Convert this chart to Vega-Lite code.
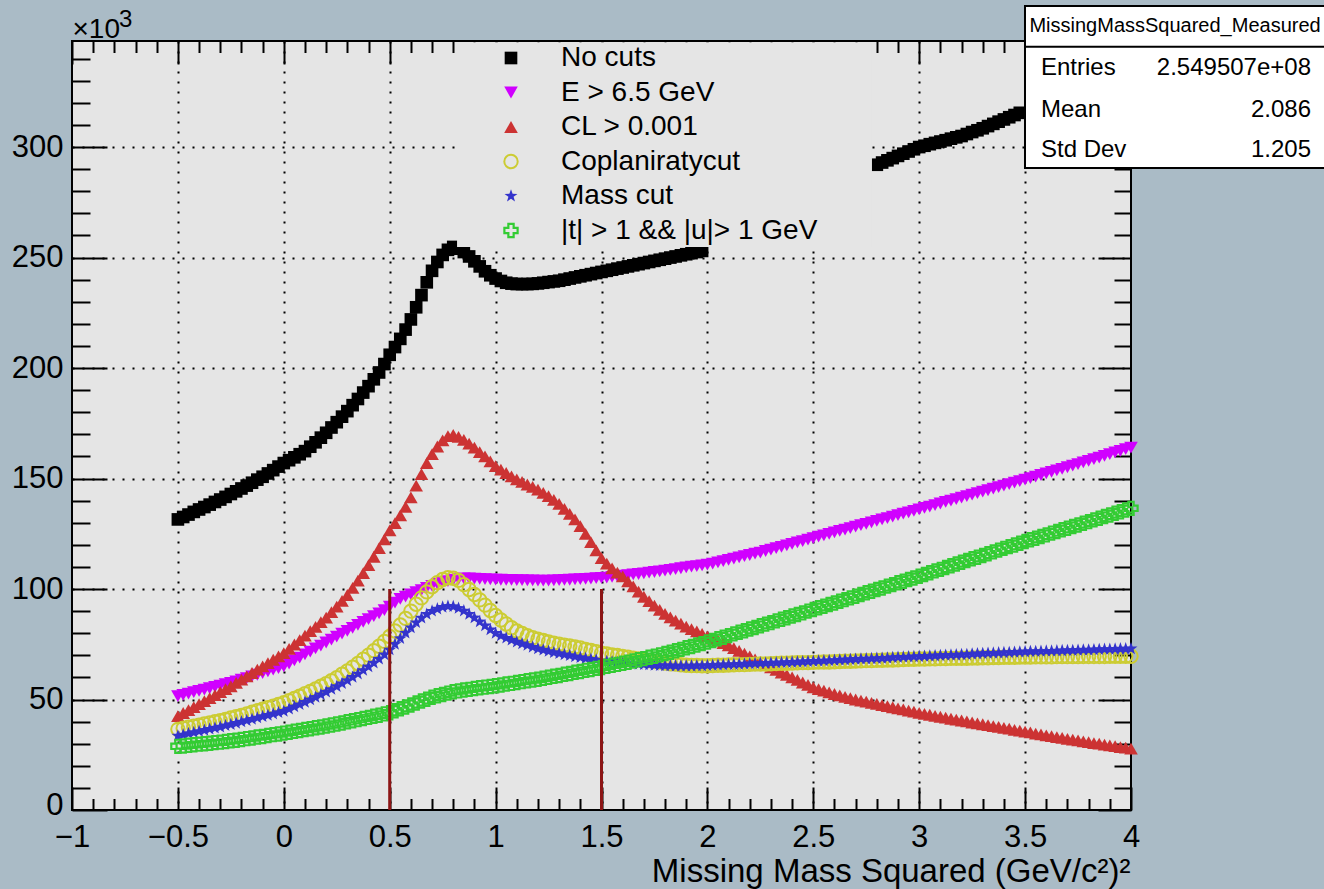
{
"$schema": "https://vega.github.io/schema/vega-lite/v6.json",
"width": 1059, "height": 769,
"autosize": {"type": "none"},
"padding": {"left": 72, "top": 41, "right": 193, "bottom": 79},
"background": "#aabbc6",
"config": {
  "font": "Liberation Sans",
  "view": {"fill": "#e5e5e5", "stroke": "#000000", "strokeWidth": 2},
  "axis": {"domain": false, "tickColor": "#000000", "tickWidth": 2, "labelColor": "#000000", "labelFontSize": 31, "titleColor": "#000000", "titleFontWeight": "normal", "gridColor": "#000000", "gridDash": [2, 8], "gridWidth": 2, "labelFont": "Liberation Sans", "titleFont": "Liberation Sans"},
  "text": {"font": "Liberation Sans", "color": "#000000"}
},
"datasets": {
"h": [
{"s":"a","x":-0.5,"y":131.5},{"s":"a","x":-0.475,"y":132.6},{"s":"a","x":-0.45,"y":133.7},{"s":"a","x":-0.425,"y":134.9},{"s":"a","x":-0.4,"y":136},{"s":"a","x":-0.375,"y":137.1},{"s":"a","x":-0.35,"y":138.2},{"s":"a","x":-0.325,"y":139.4},{"s":"a","x":-0.3,"y":140.5},{"s":"a","x":-0.275,"y":141.7},{"s":"a","x":-0.25,"y":143},{"s":"a","x":-0.225,"y":144.2},{"s":"a","x":-0.2,"y":145.5},{"s":"a","x":-0.175,"y":146.8},{"s":"a","x":-0.15,"y":148.1},{"s":"a","x":-0.125,"y":149.5},{"s":"a","x":-0.1,"y":150.8},{"s":"a","x":-0.075,"y":152.3},{"s":"a","x":-0.05,"y":153.8},{"s":"a","x":-0.025,"y":155.4},{"s":"a","x":0,"y":157},{"s":"a","x":0.025,"y":158.3},{"s":"a","x":0.05,"y":159.6},{"s":"a","x":0.075,"y":161},{"s":"a","x":0.1,"y":162.4},{"s":"a","x":0.125,"y":164.4},{"s":"a","x":0.15,"y":166.4},{"s":"a","x":0.175,"y":168.5},{"s":"a","x":0.2,"y":170.7},{"s":"a","x":0.225,"y":173.1},{"s":"a","x":0.25,"y":175.5},{"s":"a","x":0.275,"y":178},{"s":"a","x":0.3,"y":180.5},{"s":"a","x":0.325,"y":183.2},{"s":"a","x":0.35,"y":186},{"s":"a","x":0.375,"y":188.9},{"s":"a","x":0.4,"y":191.8},{"s":"a","x":0.425,"y":194.9},{"s":"a","x":0.45,"y":198},{"s":"a","x":0.475,"y":201.8},{"s":"a","x":0.5,"y":206},{"s":"a","x":0.525,"y":209.5},{"s":"a","x":0.55,"y":213.2},{"s":"a","x":0.575,"y":217.4},{"s":"a","x":0.6,"y":222},{"s":"a","x":0.625,"y":227.5},{"s":"a","x":0.65,"y":233},{"s":"a","x":0.675,"y":238.8},{"s":"a","x":0.7,"y":244},{"s":"a","x":0.725,"y":248},{"s":"a","x":0.75,"y":251.2},{"s":"a","x":0.775,"y":253.5},{"s":"a","x":0.8,"y":254.8},{"s":"a","x":0.825,"y":254},{"s":"a","x":0.85,"y":252.5},{"s":"a","x":0.875,"y":250.5},{"s":"a","x":0.9,"y":248.3},{"s":"a","x":0.925,"y":246},{"s":"a","x":0.95,"y":243.8},{"s":"a","x":0.975,"y":242},{"s":"a","x":1,"y":240.5},{"s":"a","x":1.025,"y":239.4},{"s":"a","x":1.05,"y":238.6},{"s":"a","x":1.075,"y":238.2},{"s":"a","x":1.1,"y":238},{"s":"a","x":1.125,"y":238},{"s":"a","x":1.15,"y":238},{"s":"a","x":1.175,"y":238.1},{"s":"a","x":1.2,"y":238.3},{"s":"a","x":1.225,"y":238.6},{"s":"a","x":1.25,"y":238.9},{"s":"a","x":1.275,"y":239.2},{"s":"a","x":1.3,"y":239.5},{"s":"a","x":1.325,"y":240},{"s":"a","x":1.35,"y":240.5},{"s":"a","x":1.375,"y":241},{"s":"a","x":1.4,"y":241.5},{"s":"a","x":1.425,"y":242},{"s":"a","x":1.45,"y":242.5},{"s":"a","x":1.475,"y":243},{"s":"a","x":1.5,"y":243.5},{"s":"a","x":1.525,"y":244},{"s":"a","x":1.55,"y":244.5},{"s":"a","x":1.575,"y":245},{"s":"a","x":1.6,"y":245.5},{"s":"a","x":1.625,"y":246},{"s":"a","x":1.65,"y":246.5},{"s":"a","x":1.675,"y":247},{"s":"a","x":1.7,"y":247.5},{"s":"a","x":1.725,"y":248},{"s":"a","x":1.75,"y":248.5},{"s":"a","x":1.775,"y":249},{"s":"a","x":1.8,"y":249.5},{"s":"a","x":1.825,"y":250},{"s":"a","x":1.85,"y":250.5},{"s":"a","x":1.875,"y":251},{"s":"a","x":1.9,"y":251.5},{"s":"a","x":1.925,"y":252},{"s":"a","x":1.95,"y":252.5},{"s":"a","x":1.975,"y":253},
{"s":"a","x":2.8,"y":292},{"s":"a","x":2.825,"y":293},{"s":"a","x":2.85,"y":294},{"s":"a","x":2.875,"y":295},{"s":"a","x":2.9,"y":296},{"s":"a","x":2.925,"y":297},{"s":"a","x":2.95,"y":298},{"s":"a","x":2.975,"y":299},{"s":"a","x":3,"y":300},{"s":"a","x":3.025,"y":300.6},{"s":"a","x":3.05,"y":301.3},{"s":"a","x":3.075,"y":301.9},{"s":"a","x":3.1,"y":302.5},{"s":"a","x":3.125,"y":303.1},{"s":"a","x":3.15,"y":303.8},{"s":"a","x":3.175,"y":304.4},{"s":"a","x":3.2,"y":305},{"s":"a","x":3.225,"y":305.9},{"s":"a","x":3.25,"y":306.8},{"s":"a","x":3.275,"y":307.6},{"s":"a","x":3.3,"y":308.5},{"s":"a","x":3.325,"y":309.5},{"s":"a","x":3.35,"y":310.5},{"s":"a","x":3.375,"y":311.5},{"s":"a","x":3.4,"y":312.5},{"s":"a","x":3.425,"y":313.5},{"s":"a","x":3.45,"y":314.5},{"s":"a","x":3.475,"y":315.5},
{"s":"b","x":-0.5,"y":51.5},{"s":"b","x":-0.475,"y":52.1},{"s":"b","x":-0.45,"y":52.7},{"s":"b","x":-0.425,"y":53.3},{"s":"b","x":-0.4,"y":53.9},{"s":"b","x":-0.375,"y":54.5},{"s":"b","x":-0.35,"y":55.1},{"s":"b","x":-0.325,"y":55.7},{"s":"b","x":-0.3,"y":56.3},{"s":"b","x":-0.275,"y":56.9},{"s":"b","x":-0.25,"y":57.5},{"s":"b","x":-0.225,"y":58.2},{"s":"b","x":-0.2,"y":59},{"s":"b","x":-0.175,"y":59.7},{"s":"b","x":-0.15,"y":60.5},{"s":"b","x":-0.125,"y":61.2},{"s":"b","x":-0.1,"y":62},{"s":"b","x":-0.075,"y":62.7},{"s":"b","x":-0.05,"y":63.5},{"s":"b","x":-0.025,"y":64.2},{"s":"b","x":0,"y":65},{"s":"b","x":0.025,"y":66.3},{"s":"b","x":0.05,"y":67.7},{"s":"b","x":0.075,"y":69},{"s":"b","x":0.1,"y":70.4},{"s":"b","x":0.125,"y":71.7},{"s":"b","x":0.15,"y":73.1},{"s":"b","x":0.175,"y":74.4},{"s":"b","x":0.2,"y":75.8},{"s":"b","x":0.225,"y":77.1},{"s":"b","x":0.25,"y":78.5},{"s":"b","x":0.275,"y":79.8},{"s":"b","x":0.3,"y":81.1},{"s":"b","x":0.325,"y":82.4},{"s":"b","x":0.35,"y":83.8},{"s":"b","x":0.375,"y":85.1},{"s":"b","x":0.4,"y":86.4},{"s":"b","x":0.425,"y":87.7},{"s":"b","x":0.45,"y":89},{"s":"b","x":0.475,"y":90.5},{"s":"b","x":0.5,"y":92},{"s":"b","x":0.525,"y":93.8},{"s":"b","x":0.55,"y":95.5},{"s":"b","x":0.575,"y":96.6},{"s":"b","x":0.6,"y":97.6},{"s":"b","x":0.625,"y":98.6},{"s":"b","x":0.65,"y":99.5},{"s":"b","x":0.675,"y":100.5},{"s":"b","x":0.7,"y":101.4},{"s":"b","x":0.725,"y":102.3},{"s":"b","x":0.75,"y":103},{"s":"b","x":0.775,"y":103.6},{"s":"b","x":0.8,"y":104.1},{"s":"b","x":0.825,"y":104.5},{"s":"b","x":0.85,"y":104.8},{"s":"b","x":0.875,"y":104.8},{"s":"b","x":0.9,"y":104.7},{"s":"b","x":0.925,"y":104.6},{"s":"b","x":0.95,"y":104.5},{"s":"b","x":0.975,"y":104.4},{"s":"b","x":1,"y":104.3},{"s":"b","x":1.025,"y":104.2},{"s":"b","x":1.05,"y":104.1},{"s":"b","x":1.075,"y":104.1},{"s":"b","x":1.1,"y":104},{"s":"b","x":1.125,"y":104},{"s":"b","x":1.15,"y":103.9},{"s":"b","x":1.175,"y":103.9},{"s":"b","x":1.2,"y":103.8},{"s":"b","x":1.225,"y":103.8},{"s":"b","x":1.25,"y":103.8},{"s":"b","x":1.275,"y":103.9},{"s":"b","x":1.3,"y":104},{"s":"b","x":1.325,"y":104.1},{"s":"b","x":1.35,"y":104.2},{"s":"b","x":1.375,"y":104.4},{"s":"b","x":1.4,"y":104.5},{"s":"b","x":1.425,"y":104.6},{"s":"b","x":1.45,"y":104.7},{"s":"b","x":1.475,"y":104.9},{"s":"b","x":1.5,"y":105},{"s":"b","x":1.525,"y":105.2},{"s":"b","x":1.55,"y":105.5},{"s":"b","x":1.575,"y":105.7},{"s":"b","x":1.6,"y":106},{"s":"b","x":1.625,"y":106.3},{"s":"b","x":1.65,"y":106.6},{"s":"b","x":1.675,"y":106.8},{"s":"b","x":1.7,"y":107.1},{"s":"b","x":1.725,"y":107.4},{"s":"b","x":1.75,"y":107.7},{"s":"b","x":1.775,"y":108},{"s":"b","x":1.8,"y":108.3},{"s":"b","x":1.825,"y":108.7},{"s":"b","x":1.85,"y":109},{"s":"b","x":1.875,"y":109.4},{"s":"b","x":1.9,"y":109.8},{"s":"b","x":1.925,"y":110.1},{"s":"b","x":1.95,"y":110.4},{"s":"b","x":1.975,"y":110.7},{"s":"b","x":2,"y":111},{"s":"b","x":2.025,"y":111.5},{"s":"b","x":2.05,"y":112.1},{"s":"b","x":2.075,"y":112.6},{"s":"b","x":2.1,"y":113.2},{"s":"b","x":2.125,"y":113.8},{"s":"b","x":2.15,"y":114.3},{"s":"b","x":2.175,"y":114.9},{"s":"b","x":2.2,"y":115.4},{"s":"b","x":2.225,"y":116},{"s":"b","x":2.25,"y":116.5},{"s":"b","x":2.275,"y":117.2},{"s":"b","x":2.3,"y":117.8},{"s":"b","x":2.325,"y":118.5},{"s":"b","x":2.35,"y":119.1},{"s":"b","x":2.375,"y":119.8},{"s":"b","x":2.4,"y":120.4},{"s":"b","x":2.425,"y":121.1},{"s":"b","x":2.45,"y":121.7},{"s":"b","x":2.475,"y":122.4},{"s":"b","x":2.5,"y":123},{"s":"b","x":2.525,"y":123.7},{"s":"b","x":2.55,"y":124.3},{"s":"b","x":2.575,"y":125},{"s":"b","x":2.6,"y":125.6},{"s":"b","x":2.625,"y":126.3},{"s":"b","x":2.65,"y":126.9},{"s":"b","x":2.675,"y":127.6},{"s":"b","x":2.7,"y":128.2},{"s":"b","x":2.725,"y":128.9},{"s":"b","x":2.75,"y":129.5},{"s":"b","x":2.775,"y":130.2},{"s":"b","x":2.8,"y":130.8},{"s":"b","x":2.825,"y":131.5},{"s":"b","x":2.85,"y":132.1},{"s":"b","x":2.875,"y":132.8},{"s":"b","x":2.9,"y":133.4},{"s":"b","x":2.925,"y":134.1},{"s":"b","x":2.95,"y":134.7},{"s":"b","x":2.975,"y":135.4},{"s":"b","x":3,"y":136},{"s":"b","x":3.025,"y":136.7},{"s":"b","x":3.05,"y":137.3},{"s":"b","x":3.075,"y":138},{"s":"b","x":3.1,"y":138.7},{"s":"b","x":3.125,"y":139.4},{"s":"b","x":3.15,"y":140},{"s":"b","x":3.175,"y":140.7},{"s":"b","x":3.2,"y":141.4},{"s":"b","x":3.225,"y":142},{"s":"b","x":3.25,"y":142.7},{"s":"b","x":3.275,"y":143.4},{"s":"b","x":3.3,"y":144.1},{"s":"b","x":3.325,"y":144.7},{"s":"b","x":3.35,"y":145.4},{"s":"b","x":3.375,"y":146.1},{"s":"b","x":3.4,"y":146.8},{"s":"b","x":3.425,"y":147.5},{"s":"b","x":3.45,"y":148.1},{"s":"b","x":3.475,"y":148.8},{"s":"b","x":3.5,"y":149.5},{"s":"b","x":3.525,"y":150.2},{"s":"b","x":3.55,"y":150.9},{"s":"b","x":3.575,"y":151.6},{"s":"b","x":3.6,"y":152.3},{"s":"b","x":3.625,"y":153},{"s":"b","x":3.65,"y":153.7},{"s":"b","x":3.675,"y":154.4},{"s":"b","x":3.7,"y":155.1},{"s":"b","x":3.725,"y":155.8},{"s":"b","x":3.75,"y":156.5},{"s":"b","x":3.775,"y":157.3},{"s":"b","x":3.8,"y":158},{"s":"b","x":3.825,"y":158.8},{"s":"b","x":3.85,"y":159.5},{"s":"b","x":3.875,"y":160.3},{"s":"b","x":3.9,"y":161},{"s":"b","x":3.925,"y":161.8},{"s":"b","x":3.95,"y":162.5},{"s":"b","x":3.975,"y":163.3},{"s":"b","x":4,"y":164},
{"s":"c","x":-0.5,"y":42.5},{"s":"c","x":-0.475,"y":43.9},{"s":"c","x":-0.45,"y":45.2},{"s":"c","x":-0.425,"y":46.6},{"s":"c","x":-0.4,"y":47.9},{"s":"c","x":-0.375,"y":49.3},{"s":"c","x":-0.35,"y":50.6},{"s":"c","x":-0.325,"y":52},{"s":"c","x":-0.3,"y":53.3},{"s":"c","x":-0.275,"y":54.7},{"s":"c","x":-0.25,"y":56},{"s":"c","x":-0.225,"y":57.5},{"s":"c","x":-0.2,"y":59},{"s":"c","x":-0.175,"y":60.5},{"s":"c","x":-0.15,"y":62},{"s":"c","x":-0.125,"y":63.5},{"s":"c","x":-0.1,"y":65},{"s":"c","x":-0.075,"y":66.5},{"s":"c","x":-0.05,"y":68},{"s":"c","x":-0.025,"y":69.5},{"s":"c","x":0,"y":71},{"s":"c","x":0.025,"y":72.9},{"s":"c","x":0.05,"y":74.9},{"s":"c","x":0.075,"y":76.9},{"s":"c","x":0.1,"y":78.9},{"s":"c","x":0.125,"y":80.9},{"s":"c","x":0.15,"y":82.9},{"s":"c","x":0.175,"y":85},{"s":"c","x":0.2,"y":87.1},{"s":"c","x":0.225,"y":89.5},{"s":"c","x":0.25,"y":92},{"s":"c","x":0.275,"y":94.6},{"s":"c","x":0.3,"y":97.3},{"s":"c","x":0.325,"y":100.5},{"s":"c","x":0.35,"y":103.8},{"s":"c","x":0.375,"y":107.2},{"s":"c","x":0.4,"y":110.8},{"s":"c","x":0.425,"y":114.6},{"s":"c","x":0.45,"y":118.5},{"s":"c","x":0.475,"y":122.5},{"s":"c","x":0.5,"y":126.5},{"s":"c","x":0.525,"y":129.8},{"s":"c","x":0.55,"y":133.3},{"s":"c","x":0.575,"y":137.2},{"s":"c","x":0.6,"y":141.5},{"s":"c","x":0.625,"y":146.8},{"s":"c","x":0.65,"y":152},{"s":"c","x":0.675,"y":157},{"s":"c","x":0.7,"y":161},{"s":"c","x":0.725,"y":164.5},{"s":"c","x":0.75,"y":167.3},{"s":"c","x":0.775,"y":169.2},{"s":"c","x":0.8,"y":169.8},{"s":"c","x":0.825,"y":168.9},{"s":"c","x":0.85,"y":167.5},{"s":"c","x":0.875,"y":165.8},{"s":"c","x":0.9,"y":164},{"s":"c","x":0.925,"y":162},{"s":"c","x":0.95,"y":160},{"s":"c","x":0.975,"y":157.8},{"s":"c","x":1,"y":155.6},{"s":"c","x":1.025,"y":154},{"s":"c","x":1.05,"y":152.5},{"s":"c","x":1.075,"y":151},{"s":"c","x":1.1,"y":149.6},{"s":"c","x":1.125,"y":148.5},{"s":"c","x":1.15,"y":147.3},{"s":"c","x":1.175,"y":146.2},{"s":"c","x":1.2,"y":145},{"s":"c","x":1.225,"y":143.5},{"s":"c","x":1.25,"y":142},{"s":"c","x":1.275,"y":140.3},{"s":"c","x":1.3,"y":138.5},{"s":"c","x":1.325,"y":136.3},{"s":"c","x":1.35,"y":134},{"s":"c","x":1.375,"y":131.5},{"s":"c","x":1.4,"y":128.5},{"s":"c","x":1.425,"y":125},{"s":"c","x":1.45,"y":121.2},{"s":"c","x":1.475,"y":117.5},{"s":"c","x":1.5,"y":114},{"s":"c","x":1.525,"y":111.5},{"s":"c","x":1.55,"y":109.3},{"s":"c","x":1.575,"y":107.4},{"s":"c","x":1.6,"y":105.7},{"s":"c","x":1.625,"y":103.5},{"s":"c","x":1.65,"y":101.2},{"s":"c","x":1.675,"y":98.8},{"s":"c","x":1.7,"y":96.5},{"s":"c","x":1.725,"y":94.5},{"s":"c","x":1.75,"y":92.5},{"s":"c","x":1.775,"y":90.6},{"s":"c","x":1.8,"y":88.8},{"s":"c","x":1.825,"y":87.2},{"s":"c","x":1.85,"y":85.7},{"s":"c","x":1.875,"y":84.3},{"s":"c","x":1.9,"y":83},{"s":"c","x":1.925,"y":81.9},{"s":"c","x":1.95,"y":80.8},{"s":"c","x":1.975,"y":79.7},{"s":"c","x":2,"y":78.6},{"s":"c","x":2.025,"y":77.6},{"s":"c","x":2.05,"y":76.6},{"s":"c","x":2.075,"y":75.5},{"s":"c","x":2.1,"y":74.5},{"s":"c","x":2.125,"y":73.3},{"s":"c","x":2.15,"y":72},{"s":"c","x":2.175,"y":70.8},{"s":"c","x":2.2,"y":69.5},{"s":"c","x":2.225,"y":68.2},{"s":"c","x":2.25,"y":67},{"s":"c","x":2.275,"y":65.7},{"s":"c","x":2.3,"y":64.5},{"s":"c","x":2.325,"y":63.4},{"s":"c","x":2.35,"y":62.2},{"s":"c","x":2.375,"y":61.1},{"s":"c","x":2.4,"y":60},{"s":"c","x":2.425,"y":58.9},{"s":"c","x":2.45,"y":57.7},{"s":"c","x":2.475,"y":56.6},{"s":"c","x":2.5,"y":55.5},{"s":"c","x":2.525,"y":54.7},{"s":"c","x":2.55,"y":54},{"s":"c","x":2.575,"y":53.2},{"s":"c","x":2.6,"y":52.5},{"s":"c","x":2.625,"y":51.9},{"s":"c","x":2.65,"y":51.2},{"s":"c","x":2.675,"y":50.6},{"s":"c","x":2.7,"y":50},{"s":"c","x":2.725,"y":49.5},{"s":"c","x":2.75,"y":49},{"s":"c","x":2.775,"y":48.5},{"s":"c","x":2.8,"y":48},{"s":"c","x":2.825,"y":47.5},{"s":"c","x":2.85,"y":47},{"s":"c","x":2.875,"y":46.5},{"s":"c","x":2.9,"y":46},{"s":"c","x":2.925,"y":45.5},{"s":"c","x":2.95,"y":45},{"s":"c","x":2.975,"y":44.5},{"s":"c","x":3,"y":44},{"s":"c","x":3.025,"y":43.5},{"s":"c","x":3.05,"y":43.1},{"s":"c","x":3.075,"y":42.6},{"s":"c","x":3.1,"y":42.2},{"s":"c","x":3.125,"y":41.8},{"s":"c","x":3.15,"y":41.3},{"s":"c","x":3.175,"y":40.9},{"s":"c","x":3.2,"y":40.5},{"s":"c","x":3.225,"y":40.1},{"s":"c","x":3.25,"y":39.6},{"s":"c","x":3.275,"y":39.2},{"s":"c","x":3.3,"y":38.8},{"s":"c","x":3.325,"y":38.4},{"s":"c","x":3.35,"y":38},{"s":"c","x":3.375,"y":37.6},{"s":"c","x":3.4,"y":37.2},{"s":"c","x":3.425,"y":36.8},{"s":"c","x":3.45,"y":36.3},{"s":"c","x":3.475,"y":35.9},{"s":"c","x":3.5,"y":35.5},{"s":"c","x":3.525,"y":35.1},{"s":"c","x":3.55,"y":34.6},{"s":"c","x":3.575,"y":34.2},{"s":"c","x":3.6,"y":33.8},{"s":"c","x":3.625,"y":33.4},{"s":"c","x":3.65,"y":33},{"s":"c","x":3.675,"y":32.6},{"s":"c","x":3.7,"y":32.2},{"s":"c","x":3.725,"y":31.8},{"s":"c","x":3.75,"y":31.5},{"s":"c","x":3.775,"y":31.1},{"s":"c","x":3.8,"y":30.7},{"s":"c","x":3.825,"y":30.3},{"s":"c","x":3.85,"y":30},{"s":"c","x":3.875,"y":29.6},{"s":"c","x":3.9,"y":29.2},{"s":"c","x":3.925,"y":28.9},{"s":"c","x":3.95,"y":28.5},{"s":"c","x":3.975,"y":28.2},{"s":"c","x":4,"y":27.8},
{"s":"d","x":-0.5,"y":36.5},{"s":"d","x":-0.475,"y":37},{"s":"d","x":-0.45,"y":37.5},{"s":"d","x":-0.425,"y":37.9},{"s":"d","x":-0.4,"y":38.4},{"s":"d","x":-0.375,"y":38.9},{"s":"d","x":-0.35,"y":39.4},{"s":"d","x":-0.325,"y":39.9},{"s":"d","x":-0.3,"y":40.4},{"s":"d","x":-0.275,"y":41},{"s":"d","x":-0.25,"y":41.6},{"s":"d","x":-0.225,"y":42.2},{"s":"d","x":-0.2,"y":42.8},{"s":"d","x":-0.175,"y":43.5},{"s":"d","x":-0.15,"y":44.2},{"s":"d","x":-0.125,"y":44.9},{"s":"d","x":-0.1,"y":45.6},{"s":"d","x":-0.075,"y":46.3},{"s":"d","x":-0.05,"y":47},{"s":"d","x":-0.025,"y":47.8},{"s":"d","x":0,"y":48.5},{"s":"d","x":0.025,"y":49.5},{"s":"d","x":0.05,"y":50.5},{"s":"d","x":0.075,"y":51.5},{"s":"d","x":0.1,"y":52.6},{"s":"d","x":0.125,"y":53.7},{"s":"d","x":0.15,"y":54.8},{"s":"d","x":0.175,"y":56},{"s":"d","x":0.2,"y":57.2},{"s":"d","x":0.225,"y":58.5},{"s":"d","x":0.25,"y":59.9},{"s":"d","x":0.275,"y":61.4},{"s":"d","x":0.3,"y":62.9},{"s":"d","x":0.325,"y":64.6},{"s":"d","x":0.35,"y":66.3},{"s":"d","x":0.375,"y":68.2},{"s":"d","x":0.4,"y":70.1},{"s":"d","x":0.425,"y":72.1},{"s":"d","x":0.45,"y":74.1},{"s":"d","x":0.475,"y":76.3},{"s":"d","x":0.5,"y":78.5},{"s":"d","x":0.525,"y":81},{"s":"d","x":0.55,"y":83.7},{"s":"d","x":0.575,"y":86.7},{"s":"d","x":0.6,"y":90},{"s":"d","x":0.625,"y":93.1},{"s":"d","x":0.65,"y":96},{"s":"d","x":0.675,"y":98.7},{"s":"d","x":0.7,"y":101},{"s":"d","x":0.725,"y":102.9},{"s":"d","x":0.75,"y":104.3},{"s":"d","x":0.775,"y":105.1},{"s":"d","x":0.8,"y":104.9},{"s":"d","x":0.825,"y":103.9},{"s":"d","x":0.85,"y":102},{"s":"d","x":0.875,"y":99.8},{"s":"d","x":0.9,"y":97.5},{"s":"d","x":0.925,"y":95.1},{"s":"d","x":0.95,"y":92.7},{"s":"d","x":0.975,"y":90.3},{"s":"d","x":1,"y":88},{"s":"d","x":1.025,"y":86},{"s":"d","x":1.05,"y":84.2},{"s":"d","x":1.075,"y":82.5},{"s":"d","x":1.1,"y":81},{"s":"d","x":1.125,"y":79.9},{"s":"d","x":1.15,"y":78.9},{"s":"d","x":1.175,"y":78},{"s":"d","x":1.2,"y":77.3},{"s":"d","x":1.225,"y":76.7},{"s":"d","x":1.25,"y":76.1},{"s":"d","x":1.275,"y":75.5},{"s":"d","x":1.3,"y":75},{"s":"d","x":1.325,"y":74.6},{"s":"d","x":1.35,"y":74.2},{"s":"d","x":1.375,"y":73.8},{"s":"d","x":1.4,"y":73.3},{"s":"d","x":1.425,"y":72.7},{"s":"d","x":1.45,"y":72.2},{"s":"d","x":1.475,"y":71.6},{"s":"d","x":1.5,"y":71},{"s":"d","x":1.525,"y":70.6},{"s":"d","x":1.55,"y":70.2},{"s":"d","x":1.575,"y":69.9},{"s":"d","x":1.6,"y":69.5},{"s":"d","x":1.625,"y":69.1},{"s":"d","x":1.65,"y":68.7},{"s":"d","x":1.675,"y":68.4},{"s":"d","x":1.7,"y":68},{"s":"d","x":1.725,"y":67.6},{"s":"d","x":1.75,"y":67.2},{"s":"d","x":1.775,"y":66.9},{"s":"d","x":1.8,"y":66.5},{"s":"d","x":1.825,"y":66.2},{"s":"d","x":1.85,"y":66},{"s":"d","x":1.875,"y":65.7},{"s":"d","x":1.9,"y":65.5},{"s":"d","x":1.925,"y":65.4},{"s":"d","x":1.95,"y":65.4},{"s":"d","x":1.975,"y":65.3},{"s":"d","x":2,"y":65.3},{"s":"d","x":2.025,"y":65.4},{"s":"d","x":2.05,"y":65.5},{"s":"d","x":2.075,"y":65.5},{"s":"d","x":2.1,"y":65.6},{"s":"d","x":2.125,"y":65.7},{"s":"d","x":2.15,"y":65.8},{"s":"d","x":2.175,"y":65.8},{"s":"d","x":2.2,"y":65.9},{"s":"d","x":2.225,"y":66},{"s":"d","x":2.25,"y":66.1},{"s":"d","x":2.275,"y":66.1},{"s":"d","x":2.3,"y":66.2},{"s":"d","x":2.325,"y":66.3},{"s":"d","x":2.35,"y":66.4},{"s":"d","x":2.375,"y":66.4},{"s":"d","x":2.4,"y":66.5},{"s":"d","x":2.425,"y":66.6},{"s":"d","x":2.45,"y":66.7},{"s":"d","x":2.475,"y":66.7},{"s":"d","x":2.5,"y":66.8},{"s":"d","x":2.525,"y":66.9},{"s":"d","x":2.55,"y":67},{"s":"d","x":2.575,"y":67},{"s":"d","x":2.6,"y":67.1},{"s":"d","x":2.625,"y":67.2},{"s":"d","x":2.65,"y":67.3},{"s":"d","x":2.675,"y":67.3},{"s":"d","x":2.7,"y":67.4},{"s":"d","x":2.725,"y":67.5},{"s":"d","x":2.75,"y":67.6},{"s":"d","x":2.775,"y":67.6},{"s":"d","x":2.8,"y":67.7},{"s":"d","x":2.825,"y":67.8},{"s":"d","x":2.85,"y":67.9},{"s":"d","x":2.875,"y":67.9},{"s":"d","x":2.9,"y":68},{"s":"d","x":2.925,"y":68.1},{"s":"d","x":2.95,"y":68.2},{"s":"d","x":2.975,"y":68.2},{"s":"d","x":3,"y":68.3},{"s":"d","x":3.025,"y":68.3},{"s":"d","x":3.05,"y":68.4},{"s":"d","x":3.075,"y":68.4},{"s":"d","x":3.1,"y":68.5},{"s":"d","x":3.125,"y":68.5},{"s":"d","x":3.15,"y":68.6},{"s":"d","x":3.175,"y":68.6},{"s":"d","x":3.2,"y":68.7},{"s":"d","x":3.225,"y":68.7},{"s":"d","x":3.25,"y":68.8},{"s":"d","x":3.275,"y":68.8},{"s":"d","x":3.3,"y":68.9},{"s":"d","x":3.325,"y":68.9},{"s":"d","x":3.35,"y":69},{"s":"d","x":3.375,"y":69},{"s":"d","x":3.4,"y":69.1},{"s":"d","x":3.425,"y":69.1},{"s":"d","x":3.45,"y":69.1},{"s":"d","x":3.475,"y":69.2},{"s":"d","x":3.5,"y":69.2},{"s":"d","x":3.525,"y":69.2},{"s":"d","x":3.55,"y":69.3},{"s":"d","x":3.575,"y":69.3},{"s":"d","x":3.6,"y":69.3},{"s":"d","x":3.625,"y":69.3},{"s":"d","x":3.65,"y":69.4},{"s":"d","x":3.675,"y":69.4},{"s":"d","x":3.7,"y":69.4},{"s":"d","x":3.725,"y":69.4},{"s":"d","x":3.75,"y":69.4},{"s":"d","x":3.775,"y":69.5},{"s":"d","x":3.8,"y":69.5},{"s":"d","x":3.825,"y":69.5},{"s":"d","x":3.85,"y":69.5},{"s":"d","x":3.875,"y":69.5},{"s":"d","x":3.9,"y":69.6},{"s":"d","x":3.925,"y":69.6},{"s":"d","x":3.95,"y":69.6},{"s":"d","x":3.975,"y":69.6},{"s":"d","x":4,"y":69.6},
{"s":"e","x":-0.5,"y":33.5},{"s":"e","x":-0.475,"y":34},{"s":"e","x":-0.45,"y":34.6},{"s":"e","x":-0.425,"y":35.1},{"s":"e","x":-0.4,"y":35.6},{"s":"e","x":-0.375,"y":36.1},{"s":"e","x":-0.35,"y":36.6},{"s":"e","x":-0.325,"y":37.1},{"s":"e","x":-0.3,"y":37.6},{"s":"e","x":-0.275,"y":38.2},{"s":"e","x":-0.25,"y":38.7},{"s":"e","x":-0.225,"y":39.3},{"s":"e","x":-0.2,"y":39.9},{"s":"e","x":-0.175,"y":40.5},{"s":"e","x":-0.15,"y":41.1},{"s":"e","x":-0.125,"y":41.7},{"s":"e","x":-0.1,"y":42.3},{"s":"e","x":-0.075,"y":42.9},{"s":"e","x":-0.05,"y":43.5},{"s":"e","x":-0.025,"y":44.1},{"s":"e","x":0,"y":44.7},{"s":"e","x":0.025,"y":45.7},{"s":"e","x":0.05,"y":46.7},{"s":"e","x":0.075,"y":47.7},{"s":"e","x":0.1,"y":48.8},{"s":"e","x":0.125,"y":49.9},{"s":"e","x":0.15,"y":51},{"s":"e","x":0.175,"y":52.2},{"s":"e","x":0.2,"y":53.4},{"s":"e","x":0.225,"y":54.6},{"s":"e","x":0.25,"y":55.9},{"s":"e","x":0.275,"y":57.2},{"s":"e","x":0.3,"y":58.6},{"s":"e","x":0.325,"y":60.1},{"s":"e","x":0.35,"y":61.6},{"s":"e","x":0.375,"y":63.2},{"s":"e","x":0.4,"y":64.8},{"s":"e","x":0.425,"y":66.5},{"s":"e","x":0.45,"y":68.3},{"s":"e","x":0.475,"y":70.3},{"s":"e","x":0.5,"y":72.5},{"s":"e","x":0.525,"y":75},{"s":"e","x":0.55,"y":77.6},{"s":"e","x":0.575,"y":80.1},{"s":"e","x":0.6,"y":82.5},{"s":"e","x":0.625,"y":84.8},{"s":"e","x":0.65,"y":86.9},{"s":"e","x":0.675,"y":88.6},{"s":"e","x":0.7,"y":90},{"s":"e","x":0.725,"y":91},{"s":"e","x":0.75,"y":91.8},{"s":"e","x":0.775,"y":92.2},{"s":"e","x":0.8,"y":92.1},{"s":"e","x":0.825,"y":91.3},{"s":"e","x":0.85,"y":90.1},{"s":"e","x":0.875,"y":88.6},{"s":"e","x":0.9,"y":87},{"s":"e","x":0.925,"y":85.2},{"s":"e","x":0.95,"y":83.4},{"s":"e","x":0.975,"y":81.6},{"s":"e","x":1,"y":80},{"s":"e","x":1.025,"y":78.8},{"s":"e","x":1.05,"y":77.8},{"s":"e","x":1.075,"y":76.9},{"s":"e","x":1.1,"y":76},{"s":"e","x":1.125,"y":75.2},{"s":"e","x":1.15,"y":74.5},{"s":"e","x":1.175,"y":73.7},{"s":"e","x":1.2,"y":73},{"s":"e","x":1.225,"y":72.4},{"s":"e","x":1.25,"y":71.8},{"s":"e","x":1.275,"y":71.3},{"s":"e","x":1.3,"y":70.8},{"s":"e","x":1.325,"y":70.3},{"s":"e","x":1.35,"y":69.9},{"s":"e","x":1.375,"y":69.4},{"s":"e","x":1.4,"y":69},{"s":"e","x":1.425,"y":68.6},{"s":"e","x":1.45,"y":68.2},{"s":"e","x":1.475,"y":67.9},{"s":"e","x":1.5,"y":67.5},{"s":"e","x":1.525,"y":67.2},{"s":"e","x":1.55,"y":67},{"s":"e","x":1.575,"y":66.7},{"s":"e","x":1.6,"y":66.5},{"s":"e","x":1.625,"y":66.3},{"s":"e","x":1.65,"y":66.1},{"s":"e","x":1.675,"y":66},{"s":"e","x":1.7,"y":65.8},{"s":"e","x":1.725,"y":65.7},{"s":"e","x":1.75,"y":65.5},{"s":"e","x":1.775,"y":65.4},{"s":"e","x":1.8,"y":65.3},{"s":"e","x":1.825,"y":65.3},{"s":"e","x":1.85,"y":65.2},{"s":"e","x":1.875,"y":65.2},{"s":"e","x":1.9,"y":65.2},{"s":"e","x":1.925,"y":65.2},{"s":"e","x":1.95,"y":65.3},{"s":"e","x":1.975,"y":65.3},{"s":"e","x":2,"y":65.4},{"s":"e","x":2.025,"y":65.5},{"s":"e","x":2.05,"y":65.6},{"s":"e","x":2.075,"y":65.7},{"s":"e","x":2.1,"y":65.8},{"s":"e","x":2.125,"y":65.9},{"s":"e","x":2.15,"y":66},{"s":"e","x":2.175,"y":66.1},{"s":"e","x":2.2,"y":66.2},{"s":"e","x":2.225,"y":66.3},{"s":"e","x":2.25,"y":66.4},{"s":"e","x":2.275,"y":66.4},{"s":"e","x":2.3,"y":66.5},{"s":"e","x":2.325,"y":66.6},{"s":"e","x":2.35,"y":66.7},{"s":"e","x":2.375,"y":66.8},{"s":"e","x":2.4,"y":66.9},{"s":"e","x":2.425,"y":67},{"s":"e","x":2.45,"y":67.1},{"s":"e","x":2.475,"y":67.2},{"s":"e","x":2.5,"y":67.3},{"s":"e","x":2.525,"y":67.4},{"s":"e","x":2.55,"y":67.5},{"s":"e","x":2.575,"y":67.6},{"s":"e","x":2.6,"y":67.7},{"s":"e","x":2.625,"y":67.9},{"s":"e","x":2.65,"y":68},{"s":"e","x":2.675,"y":68.1},{"s":"e","x":2.7,"y":68.2},{"s":"e","x":2.725,"y":68.3},{"s":"e","x":2.75,"y":68.4},{"s":"e","x":2.775,"y":68.5},{"s":"e","x":2.8,"y":68.6},{"s":"e","x":2.825,"y":68.7},{"s":"e","x":2.85,"y":68.8},{"s":"e","x":2.875,"y":69},{"s":"e","x":2.9,"y":69.1},{"s":"e","x":2.925,"y":69.2},{"s":"e","x":2.95,"y":69.3},{"s":"e","x":2.975,"y":69.4},{"s":"e","x":3,"y":69.5},{"s":"e","x":3.025,"y":69.6},{"s":"e","x":3.05,"y":69.7},{"s":"e","x":3.075,"y":69.8},{"s":"e","x":3.1,"y":69.9},{"s":"e","x":3.125,"y":70},{"s":"e","x":3.15,"y":70.1},{"s":"e","x":3.175,"y":70.2},{"s":"e","x":3.2,"y":70.3},{"s":"e","x":3.225,"y":70.4},{"s":"e","x":3.25,"y":70.6},{"s":"e","x":3.275,"y":70.7},{"s":"e","x":3.3,"y":70.8},{"s":"e","x":3.325,"y":70.9},{"s":"e","x":3.35,"y":71},{"s":"e","x":3.375,"y":71.1},{"s":"e","x":3.4,"y":71.2},{"s":"e","x":3.425,"y":71.3},{"s":"e","x":3.45,"y":71.4},{"s":"e","x":3.475,"y":71.5},{"s":"e","x":3.5,"y":71.6},{"s":"e","x":3.525,"y":71.7},{"s":"e","x":3.55,"y":71.7},{"s":"e","x":3.575,"y":71.8},{"s":"e","x":3.6,"y":71.9},{"s":"e","x":3.625,"y":71.9},{"s":"e","x":3.65,"y":72},{"s":"e","x":3.675,"y":72.1},{"s":"e","x":3.7,"y":72.2},{"s":"e","x":3.725,"y":72.2},{"s":"e","x":3.75,"y":72.3},{"s":"e","x":3.775,"y":72.4},{"s":"e","x":3.8,"y":72.4},{"s":"e","x":3.825,"y":72.5},{"s":"e","x":3.85,"y":72.6},{"s":"e","x":3.875,"y":72.7},{"s":"e","x":3.9,"y":72.7},{"s":"e","x":3.925,"y":72.8},{"s":"e","x":3.95,"y":72.9},{"s":"e","x":3.975,"y":72.9},{"s":"e","x":4,"y":73},
{"s":"f","x":-0.5,"y":28.8},{"s":"f","x":-0.475,"y":29},{"s":"f","x":-0.45,"y":29.3},{"s":"f","x":-0.425,"y":29.5},{"s":"f","x":-0.4,"y":29.8},{"s":"f","x":-0.375,"y":30},{"s":"f","x":-0.35,"y":30.2},{"s":"f","x":-0.325,"y":30.5},{"s":"f","x":-0.3,"y":30.7},{"s":"f","x":-0.275,"y":31},{"s":"f","x":-0.25,"y":31.3},{"s":"f","x":-0.225,"y":31.6},{"s":"f","x":-0.2,"y":31.9},{"s":"f","x":-0.175,"y":32.3},{"s":"f","x":-0.15,"y":32.6},{"s":"f","x":-0.125,"y":33},{"s":"f","x":-0.1,"y":33.3},{"s":"f","x":-0.075,"y":33.7},{"s":"f","x":-0.05,"y":34.1},{"s":"f","x":-0.025,"y":34.4},{"s":"f","x":0,"y":34.8},{"s":"f","x":0.025,"y":35.2},{"s":"f","x":0.05,"y":35.6},{"s":"f","x":0.075,"y":36},{"s":"f","x":0.1,"y":36.4},{"s":"f","x":0.125,"y":36.8},{"s":"f","x":0.15,"y":37.2},{"s":"f","x":0.175,"y":37.6},{"s":"f","x":0.2,"y":38},{"s":"f","x":0.225,"y":38.5},{"s":"f","x":0.25,"y":38.9},{"s":"f","x":0.275,"y":39.4},{"s":"f","x":0.3,"y":39.9},{"s":"f","x":0.325,"y":40.4},{"s":"f","x":0.35,"y":40.9},{"s":"f","x":0.375,"y":41.4},{"s":"f","x":0.4,"y":41.9},{"s":"f","x":0.425,"y":42.4},{"s":"f","x":0.45,"y":42.9},{"s":"f","x":0.475,"y":43.5},{"s":"f","x":0.5,"y":44},{"s":"f","x":0.525,"y":44.9},{"s":"f","x":0.55,"y":45.8},{"s":"f","x":0.575,"y":46.6},{"s":"f","x":0.6,"y":47.5},{"s":"f","x":0.625,"y":48.4},{"s":"f","x":0.65,"y":49.3},{"s":"f","x":0.675,"y":50.1},{"s":"f","x":0.7,"y":51},{"s":"f","x":0.725,"y":51.7},{"s":"f","x":0.75,"y":52.3},{"s":"f","x":0.775,"y":52.9},{"s":"f","x":0.8,"y":53.5},{"s":"f","x":0.825,"y":53.9},{"s":"f","x":0.85,"y":54.3},{"s":"f","x":0.875,"y":54.6},{"s":"f","x":0.9,"y":55},{"s":"f","x":0.925,"y":55.3},{"s":"f","x":0.95,"y":55.6},{"s":"f","x":0.975,"y":55.9},{"s":"f","x":1,"y":56.2},{"s":"f","x":1.025,"y":56.6},{"s":"f","x":1.05,"y":57},{"s":"f","x":1.075,"y":57.3},{"s":"f","x":1.1,"y":57.7},{"s":"f","x":1.125,"y":58.1},{"s":"f","x":1.15,"y":58.5},{"s":"f","x":1.175,"y":58.8},{"s":"f","x":1.2,"y":59.2},{"s":"f","x":1.225,"y":59.6},{"s":"f","x":1.25,"y":60.1},{"s":"f","x":1.275,"y":60.5},{"s":"f","x":1.3,"y":60.9},{"s":"f","x":1.325,"y":61.4},{"s":"f","x":1.35,"y":61.8},{"s":"f","x":1.375,"y":62.3},{"s":"f","x":1.4,"y":62.7},{"s":"f","x":1.425,"y":63.2},{"s":"f","x":1.45,"y":63.6},{"s":"f","x":1.475,"y":64.1},{"s":"f","x":1.5,"y":64.5},{"s":"f","x":1.525,"y":65},{"s":"f","x":1.55,"y":65.5},{"s":"f","x":1.575,"y":65.9},{"s":"f","x":1.6,"y":66.4},{"s":"f","x":1.625,"y":66.9},{"s":"f","x":1.65,"y":67.4},{"s":"f","x":1.675,"y":68},{"s":"f","x":1.7,"y":68.5},{"s":"f","x":1.725,"y":69.1},{"s":"f","x":1.75,"y":69.6},{"s":"f","x":1.775,"y":70.2},{"s":"f","x":1.8,"y":70.8},{"s":"f","x":1.825,"y":71.4},{"s":"f","x":1.85,"y":72.1},{"s":"f","x":1.875,"y":72.7},{"s":"f","x":1.9,"y":73.4},{"s":"f","x":1.925,"y":74},{"s":"f","x":1.95,"y":74.7},{"s":"f","x":1.975,"y":75.3},{"s":"f","x":2,"y":76},{"s":"f","x":2.025,"y":76.7},{"s":"f","x":2.05,"y":77.5},{"s":"f","x":2.075,"y":78.2},{"s":"f","x":2.1,"y":78.9},{"s":"f","x":2.125,"y":79.7},{"s":"f","x":2.15,"y":80.4},{"s":"f","x":2.175,"y":81.1},{"s":"f","x":2.2,"y":81.9},{"s":"f","x":2.225,"y":82.6},{"s":"f","x":2.25,"y":83.4},{"s":"f","x":2.275,"y":84.1},{"s":"f","x":2.3,"y":84.8},{"s":"f","x":2.325,"y":85.6},{"s":"f","x":2.35,"y":86.3},{"s":"f","x":2.375,"y":87},{"s":"f","x":2.4,"y":87.8},{"s":"f","x":2.425,"y":88.5},{"s":"f","x":2.45,"y":89.2},{"s":"f","x":2.475,"y":90},{"s":"f","x":2.5,"y":90.7},{"s":"f","x":2.525,"y":91.5},{"s":"f","x":2.55,"y":92.2},{"s":"f","x":2.575,"y":93},{"s":"f","x":2.6,"y":93.7},{"s":"f","x":2.625,"y":94.5},{"s":"f","x":2.65,"y":95.2},{"s":"f","x":2.675,"y":96},{"s":"f","x":2.7,"y":96.7},{"s":"f","x":2.725,"y":97.5},{"s":"f","x":2.75,"y":98.3},{"s":"f","x":2.775,"y":99},{"s":"f","x":2.8,"y":99.8},{"s":"f","x":2.825,"y":100.5},{"s":"f","x":2.85,"y":101.3},{"s":"f","x":2.875,"y":102},{"s":"f","x":2.9,"y":102.8},{"s":"f","x":2.925,"y":103.5},{"s":"f","x":2.95,"y":104.3},{"s":"f","x":2.975,"y":105},{"s":"f","x":3,"y":105.8},{"s":"f","x":3.025,"y":106.6},{"s":"f","x":3.05,"y":107.4},{"s":"f","x":3.075,"y":108.2},{"s":"f","x":3.1,"y":108.9},{"s":"f","x":3.125,"y":109.7},{"s":"f","x":3.15,"y":110.5},{"s":"f","x":3.175,"y":111.3},{"s":"f","x":3.2,"y":112.1},{"s":"f","x":3.225,"y":112.9},{"s":"f","x":3.25,"y":113.7},{"s":"f","x":3.275,"y":114.4},{"s":"f","x":3.3,"y":115.2},{"s":"f","x":3.325,"y":116},{"s":"f","x":3.35,"y":116.8},{"s":"f","x":3.375,"y":117.6},{"s":"f","x":3.4,"y":118.4},{"s":"f","x":3.425,"y":119.2},{"s":"f","x":3.45,"y":119.9},{"s":"f","x":3.475,"y":120.7},{"s":"f","x":3.5,"y":121.5},{"s":"f","x":3.525,"y":122.3},{"s":"f","x":3.55,"y":123},{"s":"f","x":3.575,"y":123.8},{"s":"f","x":3.6,"y":124.5},{"s":"f","x":3.625,"y":125.3},{"s":"f","x":3.65,"y":126},{"s":"f","x":3.675,"y":126.8},{"s":"f","x":3.7,"y":127.5},{"s":"f","x":3.725,"y":128.3},{"s":"f","x":3.75,"y":129},{"s":"f","x":3.775,"y":129.8},{"s":"f","x":3.8,"y":130.5},{"s":"f","x":3.825,"y":131.3},{"s":"f","x":3.85,"y":132},{"s":"f","x":3.875,"y":132.8},{"s":"f","x":3.9,"y":133.5},{"s":"f","x":3.925,"y":134.3},{"s":"f","x":3.95,"y":135},{"s":"f","x":3.975,"y":135.8},{"s":"f","x":4,"y":136.5}
],
"cuts": [{"cut": 0.5}, {"cut": 1.5}]
},
"layer": [
 {
  "data": {"name": "h"},
  "mark": {"type": "point", "opacity": 0},
  "encoding": {
   "x": {"field": "x", "type": "quantitative", "scale": {"domain": [-1, 4], "nice": false, "zero": false},
     "axis": {"orient": "bottom",
       "values": [-1,-0.9,-0.8,-0.7,-0.6,-0.5,-0.4,-0.3,-0.2,-0.1,0,0.1,0.2,0.3,0.4,0.5,0.6,0.7,0.8,0.9,1,1.1,1.2,1.3,1.4,1.5,1.6,1.7,1.8,1.9,2,2.1,2.2,2.3,2.4,2.5,2.6,2.7,2.8,2.9,3,3.1,3.2,3.3,3.4,3.5,3.6,3.7,3.8,3.9,4],
       "tickSize": {"expr": "abs(datum.value*2-round(datum.value*2))<0.001 ? -23 : -11.5"},
       "grid": true,
       "gridOpacity": {"expr": "abs(datum.value*2-round(datum.value*2))<0.001 && datum.value>-0.99 && datum.value<3.99 ? 1 : 0"},
       "labelExpr": "abs(datum.value*2-round(datum.value*2))<0.001 ? format(datum.value,'~g') : ''",
       "labelPadding": 35, "labelOverlap": false, "labelFlush": false, "labelBound": false,
       "title": "Missing Mass Squared (GeV/c²)²", "titleFontSize": 33, "titleAlign": "right", "titleX": 1058, "titleY": 71, "titleBaseline": "alphabetic"}},
   "y": {"field": "y", "type": "quantitative", "scale": {"domain": [0, 348], "nice": false, "zero": false},
     "axis": {"orient": "left",
       "values": [0,10,20,30,40,50,60,70,80,90,100,110,120,130,140,150,160,170,180,190,200,210,220,230,240,250,260,270,280,290,300,310,320,330,340],
       "tickSize": {"expr": "datum.value % 50 == 0 ? -35 : -18"},
       "grid": true,
       "gridOpacity": {"expr": "datum.value % 50 == 0 && datum.value > 0 ? 1 : 0"},
       "labelExpr": "datum.value % 50 == 0 ? format(datum.value,'d') : ''",
       "labelOffset": {"expr": "datum.value == 0 ? -5 : 0"},
       "labelPadding": 44, "labelOverlap": false, "labelFlush": false, "labelBound": false,
       "title": "×10", "titleFontSize": 28, "titleAngle": 0, "titleAlign": "left", "titleBaseline": "alphabetic", "titleX": 0, "titleY": -4}}
  }
 },
 {
  "data": {"name": "h"},
  "mark": {"type": "point", "opacity": 0},
  "encoding": {
   "x": {"field": "x", "type": "quantitative", "scale": {"domain": [-1, 4], "nice": false, "zero": false},
     "axis": {"orient": "top", "values": [-1,-0.9,-0.8,-0.7,-0.6,-0.5,-0.4,-0.3,-0.2,-0.1,0,0.1,0.2,0.3,0.4,0.5,0.6,0.7,0.8,0.9,1,1.1,1.2,1.3,1.4,1.5,1.6,1.7,1.8,1.9,2,2.1,2.2,2.3,2.4,2.5,2.6,2.7,2.8,2.9,3,3.1,3.2,3.3,3.4,3.5,3.6,3.7,3.8,3.9,4],
       "tickSize": {"expr": "abs(datum.value*2-round(datum.value*2))<0.001 ? -23 : -11.5"},
       "labels": false, "grid": false, "title": null}},
   "y": {"field": "y", "type": "quantitative", "scale": {"domain": [0, 348], "nice": false, "zero": false},
     "axis": {"orient": "right", "values": [0,10,20,30,40,50,60,70,80,90,100,110,120,130,140,150,160,170,180,190,200,210,220,230,240,250,260,270,280,290,300,310,320,330,340],
       "tickSize": {"expr": "datum.value % 50 == 0 ? -33 : -17"},
       "labels": false, "grid": false, "title": null}}
  }
 },
 {
  "layer": [
   {
    "data": {"name": "h"},
    "mark": {"type": "point", "opacity": 1},
    "encoding": {
     "x": {"field": "x", "type": "quantitative", "scale": {"domain": [-1, 4], "nice": false, "zero": false}, "axis": null},
     "y": {"field": "y", "type": "quantitative", "scale": {"domain": [0, 348], "nice": false, "zero": false}, "axis": null},
     "shape": {"field": "s", "type": "nominal", "scale": {"domain": ["a","b","c","d","e","f"], "range": ["square","triangle-down","triangle-up","circle","M0,-1L0.235,-0.324L0.951,-0.309L0.38,0.124L0.588,0.809L0,0.4L-0.588,0.809L-0.38,0.124L-0.951,-0.309L-0.235,-0.324Z","cross"]},
       "legend": {"orient": "none", "legendX": 425, "legendY": 3, "title": null, "labelFontSize": 28, "labelOffset": 36, "rowPadding": 6.5, "padding": 0, "labelLimit": 600, "labelColor": "#000000",
         "labelExpr": "datum.label == 'a' ? 'No cuts' : datum.label == 'b' ? 'E > 6.5 GeV' : datum.label == 'c' ? 'CL > 0.001' : datum.label == 'd' ? 'Coplaniratycut' : datum.label == 'e' ? 'Mass cut' : '|t| > 1 && |u|> 1 GeV'"}},
     "fill": {"field": "s", "type": "nominal", "scale": {"domain": ["a","b","c","d","e","f"], "range": ["#000000","#d000ff","#cc3333","transparent","#3333cc","transparent"]},
       "legend": {"orient": "none", "legendX": 425, "legendY": 3, "title": null, "labelFontSize": 28, "labelOffset": 36, "rowPadding": 6.5, "padding": 0, "labelLimit": 600, "labelColor": "#000000",
         "labelExpr": "datum.label == 'a' ? 'No cuts' : datum.label == 'b' ? 'E > 6.5 GeV' : datum.label == 'c' ? 'CL > 0.001' : datum.label == 'd' ? 'Coplaniratycut' : datum.label == 'e' ? 'Mass cut' : '|t| > 1 && |u|> 1 GeV'"}},
     "stroke": {"field": "s", "type": "nominal", "scale": {"domain": ["a","b","c","d","e","f"], "range": ["#000000","#d000ff","#cc3333","#cccc33","#3333cc","#33cc33"]},
       "legend": {"orient": "none", "legendX": 425, "legendY": 3, "title": null, "labelFontSize": 28, "labelOffset": 36, "rowPadding": 6.5, "padding": 0, "labelLimit": 600, "labelColor": "#000000",
         "labelExpr": "datum.label == 'a' ? 'No cuts' : datum.label == 'b' ? 'E > 6.5 GeV' : datum.label == 'c' ? 'CL > 0.001' : datum.label == 'd' ? 'Coplaniratycut' : datum.label == 'e' ? 'Mass cut' : '|t| > 1 && |u|> 1 GeV'"}},
     "size": {"field": "s", "type": "nominal", "scale": {"type": "ordinal", "domain": ["a","b","c","d","e","f"], "range": [160, 185, 185, 180, 185, 175]},
       "legend": {"orient": "none", "legendX": 425, "legendY": 3, "title": null, "labelFontSize": 28, "labelOffset": 36, "rowPadding": 6.5, "padding": 0, "labelLimit": 600, "labelColor": "#000000",
         "labelExpr": "datum.label == 'a' ? 'No cuts' : datum.label == 'b' ? 'E > 6.5 GeV' : datum.label == 'c' ? 'CL > 0.001' : datum.label == 'd' ? 'Coplaniratycut' : datum.label == 'e' ? 'Mass cut' : '|t| > 1 && |u|> 1 GeV'"}},
     "strokeWidth": {"field": "s", "type": "nominal", "scale": {"type": "ordinal", "domain": ["a","b","c","d","e","f"], "range": [0, 0, 0, 2, 0, 2.2]},
       "legend": {"orient": "none", "legendX": 425, "legendY": 3, "title": null, "labelFontSize": 28, "labelOffset": 36, "rowPadding": 6.5, "padding": 0, "labelLimit": 600, "labelColor": "#000000",
         "labelExpr": "datum.label == 'a' ? 'No cuts' : datum.label == 'b' ? 'E > 6.5 GeV' : datum.label == 'c' ? 'CL > 0.001' : datum.label == 'd' ? 'Coplaniratycut' : datum.label == 'e' ? 'Mass cut' : '|t| > 1 && |u|> 1 GeV'"}}
    }
   },
   {
    "data": {"values": [{}]},
    "mark": {"type": "rect", "fill": "#e5e5e5", "strokeWidth": 0},
    "encoding": {
     "x": {"datum": 0.818, "type": "quantitative", "axis": null},
     "x2": {"datum": 2.777},
     "y": {"datum": 347.4, "type": "quantitative", "axis": null},
     "y2": {"datum": 254.8}
    }
   },
   {
    "data": {"name": "cuts"},
    "mark": {"type": "rule", "color": "#8c1515", "strokeWidth": 3},
    "encoding": {
     "x": {"field": "cut", "type": "quantitative", "axis": null},
     "y": {"datum": 0, "type": "quantitative", "axis": null},
     "y2": {"datum": 100}
    }
   },
   {
    "data": {"values": [{}]},
    "mark": {"type": "rect", "fill": "#ffffff", "stroke": "#000000", "strokeWidth": 2},
    "encoding": {
     "x": {"datum": 3.4995, "type": "quantitative", "axis": null},
     "x2": {"datum": 4.95},
     "y": {"datum": 363.8, "type": "quantitative", "axis": null},
     "y2": {"datum": 290.5}
    }
   },
   {
    "data": {"values": [{}]},
    "mark": {"type": "rule", "color": "#000000", "strokeWidth": 2},
    "encoding": {
     "x": {"datum": 3.4995, "type": "quantitative", "axis": null},
     "x2": {"datum": 4.95},
     "y": {"datum": 345.4, "type": "quantitative", "axis": null}
    }
   },
   {
    "data": {"values": [{}]},
    "mark": {"type": "text", "text": "MissingMassSquared_Measured", "fontSize": 20, "align": "center", "baseline": "middle"},
    "encoding": {"x": {"datum": 4.208, "type": "quantitative", "axis": null}, "y": {"datum": 354.8, "type": "quantitative", "axis": null}}
   },
   {
    "data": {"values": [{}]},
    "mark": {"type": "text", "text": "Entries", "fontSize": 24, "align": "left", "baseline": "middle"},
    "encoding": {"x": {"datum": 3.575, "type": "quantitative", "axis": null}, "y": {"datum": 335.8, "type": "quantitative", "axis": null}}
   },
   {
    "data": {"values": [{}]},
    "mark": {"type": "text", "text": "2.549507e+08", "fontSize": 24, "align": "right", "baseline": "middle"},
    "encoding": {"x": {"datum": 4.85, "type": "quantitative", "axis": null}, "y": {"datum": 335.8, "type": "quantitative", "axis": null}}
   },
   {
    "data": {"values": [{}]},
    "mark": {"type": "text", "text": "Mean", "fontSize": 24, "align": "left", "baseline": "middle"},
    "encoding": {"x": {"datum": 3.575, "type": "quantitative", "axis": null}, "y": {"datum": 316.8, "type": "quantitative", "axis": null}}
   },
   {
    "data": {"values": [{}]},
    "mark": {"type": "text", "text": "2.086", "fontSize": 24, "align": "right", "baseline": "middle"},
    "encoding": {"x": {"datum": 4.85, "type": "quantitative", "axis": null}, "y": {"datum": 316.8, "type": "quantitative", "axis": null}}
   },
   {
    "data": {"values": [{}]},
    "mark": {"type": "text", "text": "Std Dev", "fontSize": 24, "align": "left", "baseline": "middle"},
    "encoding": {"x": {"datum": 3.575, "type": "quantitative", "axis": null}, "y": {"datum": 298.7, "type": "quantitative", "axis": null}}
   },
   {
    "data": {"values": [{}]},
    "mark": {"type": "text", "text": "1.205", "fontSize": 24, "align": "right", "baseline": "middle"},
    "encoding": {"x": {"datum": 4.85, "type": "quantitative", "axis": null}, "y": {"datum": 298.7, "type": "quantitative", "axis": null}}
   },
   {
    "data": {"values": [{}]},
    "mark": {"type": "text", "text": "3", "fontSize": 24, "align": "left", "baseline": "alphabetic"},
    "encoding": {"x": {"datum": -0.778, "type": "quantitative", "axis": null}, "y": {"datum": 354.5, "type": "quantitative", "axis": null}}
   }
  ]
 }
],
"resolve": {"scale": {"x": "independent", "y": "independent"}, "axis": {"x": "independent", "y": "independent"}}
}
